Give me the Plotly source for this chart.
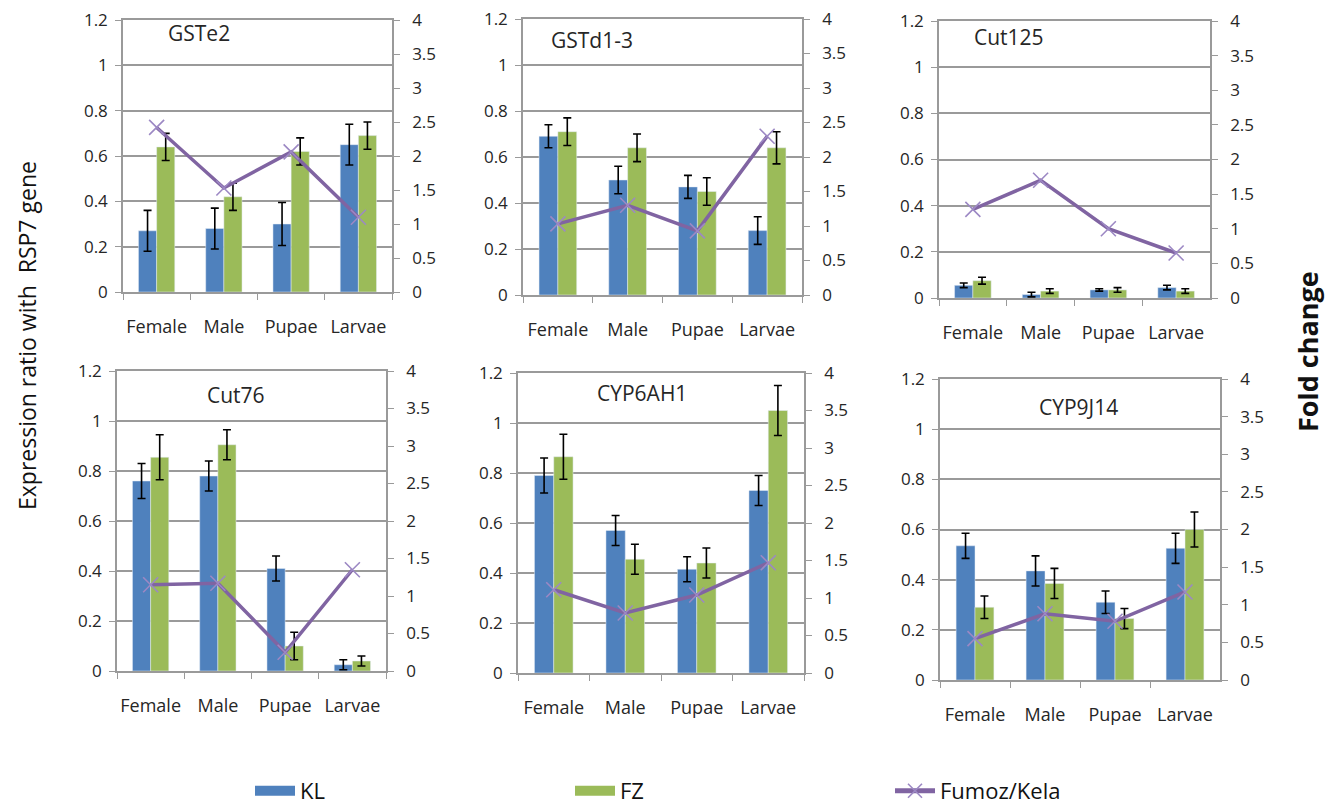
import plotly.graph_objects as go

stages = ["Female", "Male", "Pupae", "Larvae"]
genes = ["GSTe2", "GSTd1-3", "Cut125", "Cut76", "CYP6AH1", "CYP9J14"]

kl_vals = {
    "GSTe2":   [0.27, 0.28, 0.30, 0.65],
    "GSTd1-3": [0.69, 0.50, 0.47, 0.28],
    "Cut125":  [0.055, 0.015, 0.035, 0.045],
    "Cut76":   [0.76, 0.78, 0.41, 0.025],
    "CYP6AH1": [0.79, 0.57, 0.415, 0.73],
    "CYP9J14": [0.535, 0.435, 0.31, 0.525],
}
kl_err = {
    "GSTe2":   [0.09, 0.09, 0.095, 0.09],
    "GSTd1-3": [0.05, 0.06, 0.05, 0.06],
    "Cut125":  [0.01, 0.01, 0.005, 0.01],
    "Cut76":   [0.07, 0.06, 0.05, 0.02],
    "CYP6AH1": [0.07, 0.06, 0.05, 0.06],
    "CYP9J14": [0.05, 0.06, 0.045, 0.06],
}
fz_vals = {
    "GSTe2":   [0.64, 0.42, 0.62, 0.69],
    "GSTd1-3": [0.71, 0.64, 0.45, 0.64],
    "Cut125":  [0.075, 0.03, 0.035, 0.03],
    "Cut76":   [0.855, 0.905, 0.10, 0.04],
    "CYP6AH1": [0.865, 0.455, 0.44, 1.05],
    "CYP9J14": [0.29, 0.385, 0.245, 0.60],
}
fz_err = {
    "GSTe2":   [0.06, 0.06, 0.06, 0.06],
    "GSTd1-3": [0.06, 0.06, 0.06, 0.07],
    "Cut125":  [0.015, 0.01, 0.01, 0.01],
    "Cut76":   [0.09, 0.06, 0.055, 0.02],
    "CYP6AH1": [0.09, 0.06, 0.06, 0.10],
    "CYP9J14": [0.045, 0.06, 0.04, 0.07],
}
fold_change = {
    "GSTe2":   [2.42, 1.53, 2.06, 1.10],
    "GSTd1-3": [1.03, 1.30, 0.93, 2.30],
    "Cut125":  [1.28, 1.70, 1.00, 0.65],
    "Cut76":   [1.15, 1.17, 0.25, 1.35],
    "CYP6AH1": [1.11, 0.80, 1.04, 1.47],
    "CYP9J14": [0.55, 0.88, 0.78, 1.17],
}

left_ticks = [0, 0.2, 0.4, 0.6, 0.8, 1, 1.2]
left_ticktext = ["0", "0.2", "0.4", "0.6", "0.8", "1", "1.2"]
right_ticks = [0, 0.5, 1, 1.5, 2, 2.5, 3, 3.5, 4]
right_ticktext = ["0", "0.5", "1", "1.5", "2", "2.5", "3", "3.5", "4"]

W, H = 1329, 810
# panel boxes in pixels: (left, right, top, bottom)
boxes = [
    (123, 392, 20, 292),
    (523, 802, 19, 295),
    (939, 1210, 21, 298),
    (117, 386, 371, 671),
    (518, 804, 373, 673),
    (940, 1220, 379, 680),
]
title_pos = [(199, 33), (592, 40), (1009, 37), (236, 395), (642, 393), (1078, 407)]

BLUE = "#4F81BD"
GREEN = "#9BBB59"
PURPLE = "#8064A2"
GRID = "#9a9a9a"
TXT = "#262626"
FONT = "Open Sans"

fig = go.Figure()
layout = dict(
    width=W, height=H,
    margin=dict(l=0, r=0, t=0, b=0, autoexpand=False),
    paper_bgcolor="white", plot_bgcolor="white",
    barmode="group", bargap=0.46, bargroupgap=0.0,
    font=dict(family=FONT, color=TXT, size=14),
    showlegend=True,
)
annotations = []

for i, g in enumerate(genes):
    n = i + 1
    xa = "x" if n == 1 else f"x{n}"
    yl_idx = 2 * n - 1
    yr_idx = 2 * n
    yl = "y" if yl_idx == 1 else f"y{yl_idx}"
    yr = f"y{yr_idx}"
    l, r, t, b = boxes[i]
    xdom = [l / W, r / W]
    ydom = [1 - b / H, 1 - t / H]

    fig.add_trace(go.Bar(
        x=stages, y=kl_vals[g], name="KL", marker_color=BLUE,
        error_y=dict(type="data", array=kl_err[g], color="black", thickness=1.6, width=4),
        xaxis=xa, yaxis=yl, offsetgroup="KL", legendgroup="KL", showlegend=False,
    ))
    fig.add_trace(go.Bar(
        x=stages, y=fz_vals[g], name="FZ", marker_color=GREEN,
        error_y=dict(type="data", array=fz_err[g], color="black", thickness=1.6, width=4),
        xaxis=xa, yaxis=yl, offsetgroup="FZ", legendgroup="FZ", showlegend=False,
    ))
    fig.add_trace(go.Scatter(
        x=stages, y=fold_change[g], name="Fumoz/Kela", mode="lines+markers",
        line=dict(color=PURPLE, width=3.5),
        marker=dict(symbol="x-thin", size=15, line=dict(color="#9c88c4", width=1.6)),
        xaxis=xa, yaxis=yr, legendgroup="FK", showlegend=False,
    ))

    xkey = "xaxis" if n == 1 else f"xaxis{n}"
    ylkey = "yaxis" if yl_idx == 1 else f"yaxis{yl_idx}"
    yrkey = f"yaxis{yr_idx}"
    layout[xkey] = dict(
        domain=xdom, anchor=yl, type="category", automargin=False,
        showline=True, linecolor=GRID, linewidth=1.5, mirror=True,
        ticks="outside", tickson="boundaries", ticklen=6, tickcolor=GRID,
        tickangle=0,
        tickfont=dict(size=18, color=TXT), ticklabelstandoff=18,
        showgrid=False, zeroline=False,
    )
    layout[ylkey] = dict(
        domain=ydom, anchor=xa, range=[0, 1.2], automargin=False,
        tickvals=left_ticks, ticktext=left_ticktext,
        showline=True, linecolor=GRID, linewidth=1.5,
        ticks="outside", ticklen=6, tickcolor=GRID,
        showgrid=True, gridcolor=GRID, gridwidth=1.5, zeroline=False,
        tickfont=dict(size=17, color=TXT), ticklabelstandoff=4,
    )
    layout[yrkey] = dict(
        domain=ydom, anchor=xa, overlaying=yl, side="right", range=[0, 4],
        automargin=False,
        tickvals=right_ticks, ticktext=right_ticktext,
        showline=True, linecolor=GRID, linewidth=1.5,
        ticks="outside", ticklen=6, tickcolor=GRID,
        showgrid=False, zeroline=False,
        tickfont=dict(size=17, color=TXT), ticklabelstandoff=9,
    )
    tx, ty = title_pos[i]
    annotations.append(dict(
        text=g, x=tx / W, y=1 - ty / H, xref="paper", yref="paper",
        showarrow=False, xanchor="center", yanchor="middle",
        font=dict(size=21, color=TXT, family=FONT),
    ))

# legend-only entries (no data drawn)
fig.add_trace(go.Scatter(x=[None], y=[None], mode="lines", name="KL",
                         line=dict(color=BLUE, width=15), legendgroup="KL"))
fig.add_trace(go.Scatter(x=[None], y=[None], mode="lines", name="FZ",
                         line=dict(color=GREEN, width=15), legendgroup="FZ"))
fig.add_trace(go.Scatter(x=[None], y=[None], mode="lines+markers", name="Fumoz/Kela",
                         line=dict(color=PURPLE, width=5),
                         marker=dict(symbol="x-thin", size=14, line=dict(color="#9c88c4", width=1.6)),
                         legendgroup="FK"))

annotations.append(dict(
    text="Expression ratio with  RSP7 gene", x=27 / W, y=1 - 336 / H,
    xref="paper", yref="paper", showarrow=False, textangle=-90,
    xanchor="center", yanchor="middle", font=dict(size=23, color="#111", family=FONT),
))
annotations.append(dict(
    text="<b>Fold change</b>", x=1307 / W, y=1 - 352 / H,
    xref="paper", yref="paper", showarrow=False, textangle=-90,
    xanchor="center", yanchor="middle", font=dict(size=27, color="#111", family=FONT),
))
layout["annotations"] = annotations
layout["legend"] = dict(
    orientation="h", x=250 / W, y=1 - 791 / H, xanchor="left", yanchor="middle",
    entrywidth=265, entrywidthmode="pixels", itemwidth=40,
    font=dict(size=22, color="#111", family=FONT), bgcolor="rgba(0,0,0,0)",
)
fig.update_layout(**layout)
fig.write_html("out.html")
